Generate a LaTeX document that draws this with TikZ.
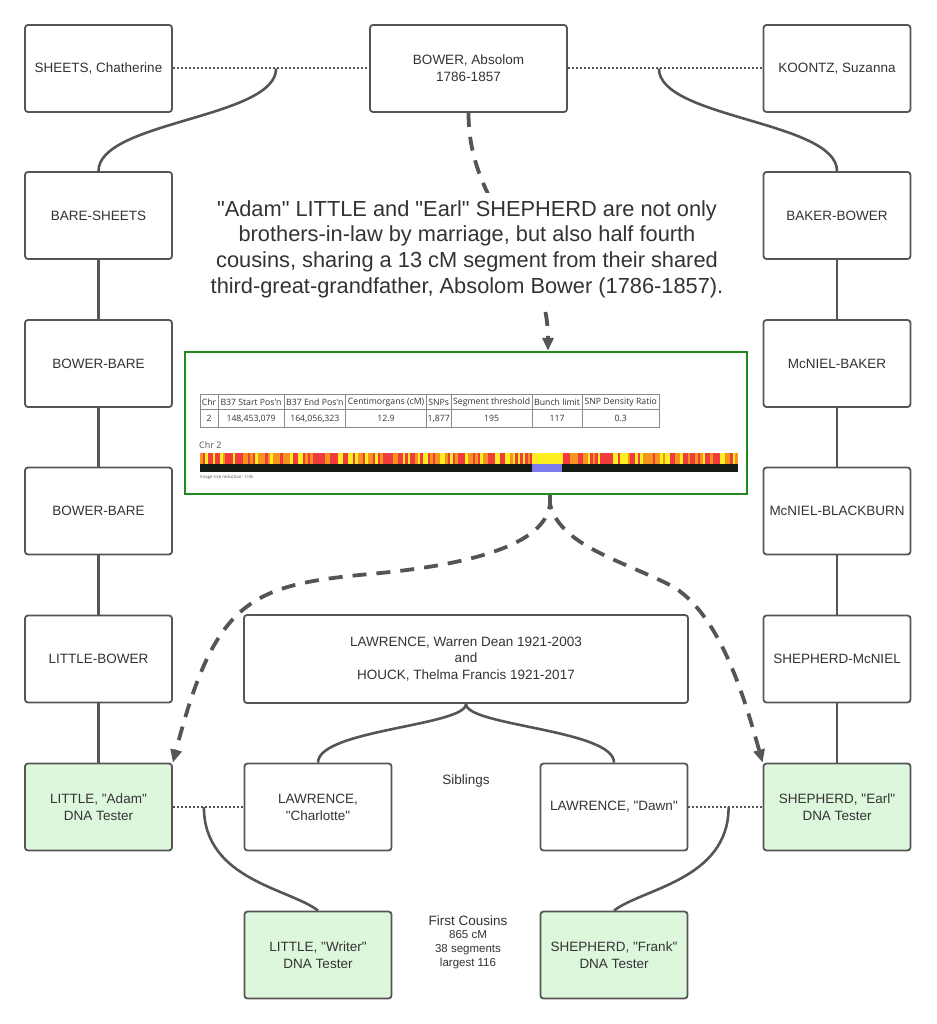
\documentclass[tikz,border=0pt]{standalone}
\usepackage{fontspec}
\setmainfont{Liberation Sans}[Ligatures=TeXOff]
\newfontfamily\tabfont{Open Sans}[Ligatures=TeXOff]
\usetikzlibrary{arrows.meta,backgrounds,calc}
\definecolor{lineC}{HTML}{555555}
\definecolor{txtC}{HTML}{333333}
\definecolor{greenF}{HTML}{DDF7DD}
\definecolor{greenB}{HTML}{1F8A1F}
\definecolor{stripR}{HTML}{F03C3C}
\definecolor{stripO}{HTML}{F7941D}
\definecolor{stripY}{HTML}{FFEE22}
\definecolor{blueS}{HTML}{7B7BEE}
\definecolor{barK}{HTML}{141A14}
\definecolor{tabL}{HTML}{8A8A8A}
\begin{document}
\begin{tikzpicture}[x=1pt,y=-1pt,
  person/.style={draw=lineC, line width=1.8pt, rounded corners=3pt,
    minimum width=147pt, minimum height=87pt, align=center,
    font=\fontsize{13.5}{17}\selectfont, text=txtC, inner sep=2pt, fill=white},
  tester/.style={person, fill=greenF},
  link/.style={draw=lineC, line width=2.6pt},
  spouse/.style={draw=lineC, line width=2pt, dotted},
  dnaarrow/.style={draw=lineC, line width=3.8pt, dash pattern=on 14pt off 10pt,
    -{Triangle[length=13pt,width=11pt]}},
  tabtxt/.style={font=\tabfont\fontsize{8.7}{9}\selectfont, text=txtC, inner sep=0pt},
  plain/.style={text=txtC, align=center}
]
\useasboundingbox (0,0) rectangle (936,1024);

% top row
\node[person] (sheets) at (98.5,68.5) {SHEETS, Chatherine};
\node[person, minimum width=197pt] (bower) at (468.5,68.5) {BOWER, Absolom\\1786-1857};
\node[person] (koontz) at (837,68.5) {KOONTZ, Suzanna};

% left column
\node[person] (baresheets) at (98.5,215.5) {BARE-SHEETS};
\node[person] (bowerbareA) at (98.5,363.5) {BOWER-BARE};
\node[person] (bowerbareB) at (98.5,511) {BOWER-BARE};
\node[person] (littlebower) at (98.5,659) {LITTLE-BOWER};
\node[tester] (adam) at (98.5,807) {LITTLE, "Adam"\\DNA Tester};

% right column
\node[person] (bakerbower) at (837,215.5) {BAKER-BOWER};
\node[person] (mcnielbaker) at (837,363.5) {McNIEL-BAKER};
\node[person] (mcnielblack) at (837,511) {McNIEL-BLACKBURN};
\node[person] (shepmcniel) at (837,659) {SHEPHERD-McNIEL};
\node[tester] (earl) at (837,807) {SHEPHERD, "Earl"\\DNA Tester};

% middle
\node[person, minimum width=444pt, minimum height=88pt, font=\fontsize{13.5}{16.5}\selectfont] (warren) at (466,659)
  {LAWRENCE, Warren Dean 1921-2003\\and\\HOUCK, Thelma Francis 1921-2017};
\node[person] (charlotte) at (318,807) {LAWRENCE,\\"Charlotte"};
\node[person] (dawn) at (614,807) {LAWRENCE, "Dawn"};
\node[tester] (writer) at (318,955) {LITTLE, "Writer"\\DNA Tester};
\node[tester] (frank) at (614,955) {SHEPHERD, "Frank"\\DNA Tester};

\node[plain, font=\fontsize{13.5}{16}\selectfont] (sib) at (466,781) {Siblings};
\node[plain, font=\fontsize{13.5}{16}\selectfont] (fc) at (468,921) {First Cousins};
\node[plain, font=\fontsize{11.5}{14}\selectfont] (fcstats) at (468,950) {865 cM\\38 segments\\largest 116};

% note text
\node[plain, font=\fontsize{21.8}{25.7}\selectfont, fill=white, inner sep=7pt] (note) at (467,249)
  {"Adam" LITTLE and "Earl" SHEPHERD are not only\\
   brothers-in-law by marriage, but also half fourth\\
   cousins, sharing a 13 cM segment from their shared\\
   third-great-grandfather, Absolom Bower (1786-1857).};

% chromosome image
\node[draw=greenB, line width=2.4pt, minimum width=562pt, minimum height=142pt,
      fill=white, inner sep=0pt] (img) at (466,423) {};
\draw[tabL, line width=0.8pt] (200,394.3) rectangle (659.3,427.7);
\draw[tabL, line width=0.8pt] (200,409.5) -- (659.3,409.5);
\foreach \xx in {218.2,283.9,345.7,426.4,451.1,532.1,582.1}
  \draw[tabL, line width=0.8pt] (\xx,394.3) -- (\xx,427.7);
\foreach \a/\b/\h/\d [count=\k] in {
  200/218.2/Chr/2,
  218.2/283.9/{B37 Start Pos'n}/{148,453,079},
  283.9/345.7/{B37 End Pos'n}/{164,056,323},
  345.7/426.4/{Centimorgans (cM)}/{12.9},
  426.4/451.1/SNPs/{1,877},
  451.1/532.1/{Segment threshold}/195,
  532.1/582.1/{Bunch limit}/117,
  582.1/659.3/{SNP Density Ratio}/{0.3}} {
  \node[tabtxt] (h\k) at ({(\a+\b)/2},402) {\h};
  \node[tabtxt] (d\k) at ({(\a+\b)/2},418.8) {\d};
}
\node[anchor=west, font=\tabfont\fontsize{9}{10}\selectfont, text=lineC, inner sep=0pt] (chr) at (199,445) {Chr 2};
\fill[stripO] (200,453) rectangle (738,464);
\pgfmathsetseed{11}
\foreach \i in {0,...,214}{
  \pgfmathrandominteger{\c}{0}{6}
  \pgfmathsetmacro{\xa}{200+\i*2.5}
  \ifcase\c\relax \def\sc{stripR}\or \def\sc{stripR}\or \def\sc{stripR}\or \def\sc{stripO}\or \def\sc{stripO}\or \def\sc{stripY}\else \def\sc{stripY}\fi
  \fill[\sc] (\xa,453) rectangle ++(2.5,11);
}
\fill[stripY] (532,453) rectangle (562,464);
\fill[barK] (200,464) rectangle (738,472);
\fill[blueS] (532,464) rectangle (562,472);
\node[anchor=west, font=\tabfont\fontsize{4.3}{5}\selectfont, text=lineC, inner sep=0pt] (isr) at (200,477) {Image size reduction: 1/36};

\coordinate (lbend) at (370,574);
\coordinate (rbend) at (670,585);

\begin{scope}[on background layer]
\fill[white] (0,0) rectangle (936,1024);
% spouses
\draw[spouse] (sheets.east) -- (bower.west);
\draw[spouse] (bower.east) -- (koontz.west);
\draw[spouse] (adam.east) -- (charlotte.west);
\draw[spouse] (dawn.east) -- (earl.west);
% descent
\draw[link] ($(bower.west)+(-93,0)$) .. controls +(0,50) and +(0,-50) .. (baresheets.north);
\draw[link] ($(bower.east)+(91,0)$) .. controls +(0,50) and +(0,-50) .. (bakerbower.north);
\draw[link] (baresheets.south) -- (bowerbareA.north);
\draw[link] (bowerbareA.south) -- (bowerbareB.north);
\draw[link] (bowerbareB.south) -- (littlebower.north);
\draw[link] (littlebower.south) -- (adam.north);
\draw[link] (bakerbower.south) -- (mcnielbaker.north);
\draw[link] (mcnielbaker.south) -- (mcnielblack.north);
\draw[link] (mcnielblack.south) -- (shepmcniel.north);
\draw[link] (shepmcniel.south) -- (earl.north);
\draw[link] (warren.south) .. controls +(0,22) and +(0,-33) .. (charlotte.north);
\draw[link] (warren.south) .. controls +(0,22) and +(0,-33) .. (dawn.north);
\draw[link] ($(adam.east)+(31,0)$) .. controls +(0,73) and +(-28,-22) .. (writer.north);
\draw[link] ($(earl.west)+(-34,0)$) .. controls +(0,73) and +(28,-22) .. (frank.north);
% DNA arrows
\draw[dnaarrow] (bower.south) .. controls +(0,99) and +(0,-99) .. ([xshift=82pt]img.north);
\draw[dnaarrow] ([xshift=84pt]img.south) -- +(0,9) .. controls (545,545) and (470,565) .. (lbend)
  .. controls (250,585) and (215,600) .. (adam.north east);
\draw[dnaarrow] ([xshift=84pt]img.south) -- +(0,9) .. controls (560,545) and (620,560) .. (rbend)
  .. controls (720,612) and (745,700) .. (earl.north west);
\end{scope}
\end{tikzpicture}
\end{document}
